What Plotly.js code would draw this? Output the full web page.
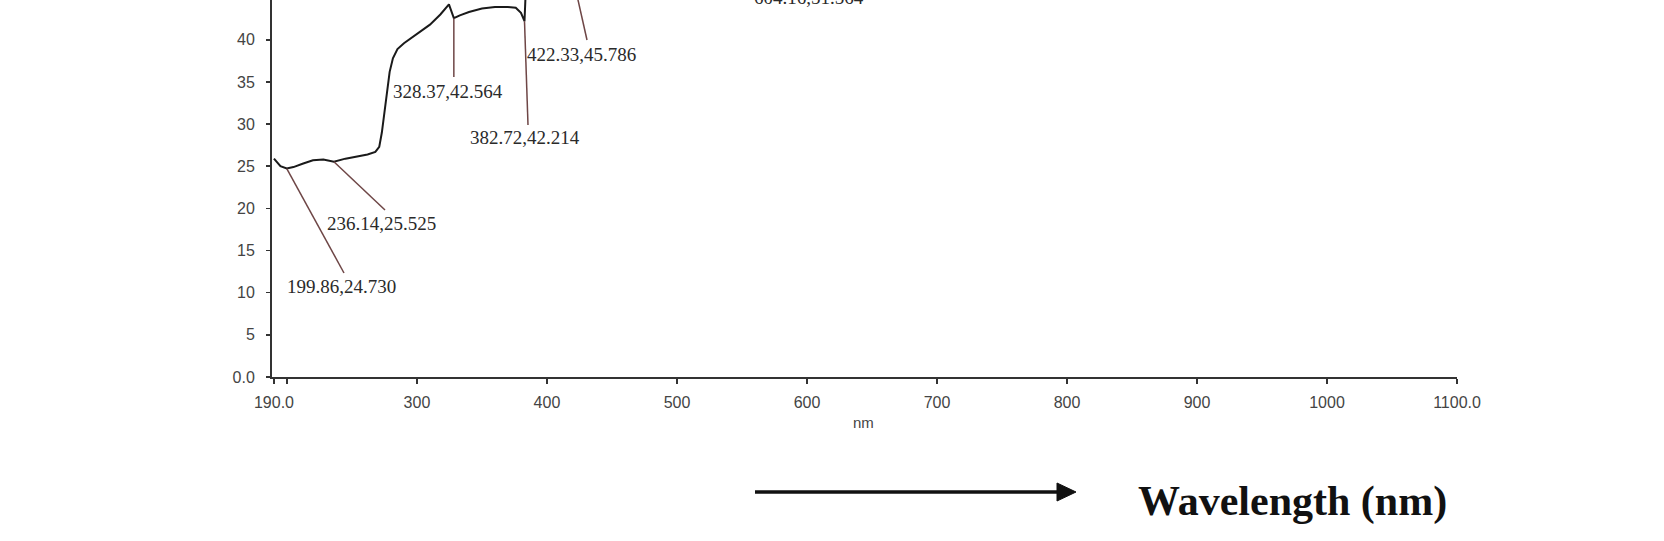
<!DOCTYPE html>
<html>
<head>
<meta charset="utf-8">
<script src="https://cdn.plot.ly/plotly-3.0.1.min.js"></script>
<style>html,body{margin:0;padding:0;background:#fff;}#chart{width:1664px;height:541px;}</style>
</head>
<body>
<div id="chart"></div>
<script>
// ---- data ----
const wavelength = [190, 191.5, 195, 199.86, 205, 212, 220, 228, 236.14, 245, 255, 262, 268, 271, 273, 275, 277, 279, 281.5, 285, 290, 300, 310, 318, 324.6, 328.37, 333, 340, 350, 360, 370, 376, 380, 382.72, 384, 390, 400, 410, 422.33, 440, 470, 520, 570, 604.16, 650, 750, 850, 950, 1050, 1100];
const absorbance = [25.9, 25.6, 25.0, 24.73, 24.9, 25.3, 25.7, 25.8, 25.525, 25.9, 26.2, 26.4, 26.7, 27.3, 29.0, 31.5, 34.0, 36.2, 37.8, 38.9, 39.6, 40.7, 41.8, 43.0, 44.2, 42.564, 42.9, 43.3, 43.7, 43.9, 43.9, 43.8, 43.2, 42.214, 47.0, 48.5, 47.5, 46.8, 45.786, 47.5, 49.0, 50.2, 51.0, 51.564, 52.5, 53.5, 54.5, 55.0, 55.5, 56.0];
const peakX = [199.86, 236.14, 328.37, 382.72, 422.33, 604.16];
const peakY = [24.730, 25.525, 42.564, 42.214, 45.786, 51.564];
const xTickVals = [190, 200, 300, 400, 500, 600, 700, 800, 900, 1000, 1100];
const xTickText = ["190.0", "", "300", "400", "500", "600", "700", "800", "900", "1000", "1100.0"];
const yTickVals = [0, 5, 10, 15, 20, 25, 30, 35, 40, 45];
const yTickText = ["0.0", "5", "10", "15", "20", "25", "30", "35", "40", "45"];
const xAxisTitle = "nm";
const bigTitle = "Wavelength (nm)";

// ---- layout geometry ----
const L = 272, R = 207, T = 0, B = 164;
const W = 1664 - L - R, H = 541 - T - B;
const XR = [188.5, 1100], YR = [0, 44.72];
const px2x = px => XR[0] + (px - L) / W * (XR[1] - XR[0]);
const py2y = py => YR[0] + (1 - (py - T) / H) * (YR[1] - YR[0]);
const pX = px => (px - L) / W;
const pY = py => 1 - (py - T) / H;

// label centres and leader ends (pixels)
const labelPos = [[341, 286], [381, 223], [448, 92], [525, 137], [581, 55], [809, -2]];
const leaderEnd = [[344, 273], [385, 210], [null, 77], [528, 125], [587, 40], null];

const annotations = [];
const shapes = [];
peakX.forEach((x, i) => {
  annotations.push({
    xref: 'paper', yref: 'paper', x: pX(labelPos[i][0]), y: pY(labelPos[i][1]),
    xanchor: 'center', yanchor: 'middle', showarrow: false,
    text: x.toFixed(2) + ',' + peakY[i].toFixed(3),
    font: {family: 'Liberation Serif, Times New Roman, serif', size: 19, color: '#2a2a2a'}
  });
  const e = leaderEnd[i];
  if (e) {
    shapes.push({
      type: 'line', xref: 'x', yref: 'y', x0: x, y0: peakY[i],
      x1: e[0] === null ? x : px2x(e[0]), y1: py2y(e[1]),
      line: {color: '#6e4646', width: 1.5}
    });
  }
});

annotations.push({
  xref: 'paper', yref: 'paper', x: pX(863), y: pY(422), xanchor: 'center', yanchor: 'middle',
  showarrow: false, text: xAxisTitle,
  font: {family: 'Liberation Sans, Arial, sans-serif', size: 15, color: '#444'}
});
annotations.push({
  xref: 'paper', yref: 'paper', x: pX(1292), y: pY(501), xanchor: 'center', yanchor: 'middle',
  showarrow: false, text: '<b>' + bigTitle + '</b>',
  font: {family: 'Liberation Serif, Times New Roman, serif', size: 42, color: '#111'}
});
// arrow
shapes.push({type: 'line', xref: 'paper', yref: 'paper', x0: pX(755), y0: pY(492), x1: pX(1060), y1: pY(492),
  line: {color: '#111', width: 3.5}});
shapes.push({type: 'path', xref: 'paper', yref: 'paper',
  path: `M ${pX(1057)} ${pY(483)} L ${pX(1076)} ${pY(492)} L ${pX(1057)} ${pY(501)} Z`,
  fillcolor: '#111', line: {color: '#111', width: 1}});

const trace = {
  x: wavelength, y: absorbance, type: 'scatter', mode: 'lines',
  line: {color: '#1a1a1a', width: 2}, hoverinfo: 'skip', cliponaxis: true
};

const layout = {
  width: 1664, height: 541,
  margin: {l: L, r: R, t: T, b: B, pad: 0},
  paper_bgcolor: '#fff', plot_bgcolor: '#fff',
  showlegend: false,
  xaxis: {
    range: XR, tickmode: 'array', tickvals: xTickVals, ticktext: xTickText,
    showgrid: false, zeroline: false, showline: true, linecolor: '#333', linewidth: 2,
    ticks: 'outside', ticklen: 5, tickwidth: 1.5, tickcolor: '#333', ticklabelstandoff: 5,
    tickfont: {family: 'Liberation Sans, Arial, sans-serif', size: 16, color: '#444'},
    fixedrange: true
  },
  yaxis: {
    range: YR, tickmode: 'array', tickvals: yTickVals, ticktext: yTickText,
    showgrid: false, zeroline: false, showline: true, linecolor: '#333', linewidth: 2,
    ticks: 'outside', ticklen: 4, tickwidth: 1.5, tickcolor: '#333', ticklabelstandoff: 8,
    tickfont: {family: 'Liberation Sans, Arial, sans-serif', size: 16, color: '#444'},
    fixedrange: true
  },
  shapes: shapes,
  annotations: annotations
};

Plotly.newPlot('chart', [trace], layout, {displayModeBar: false, staticPlot: true});
</script>
</body>
</html>
